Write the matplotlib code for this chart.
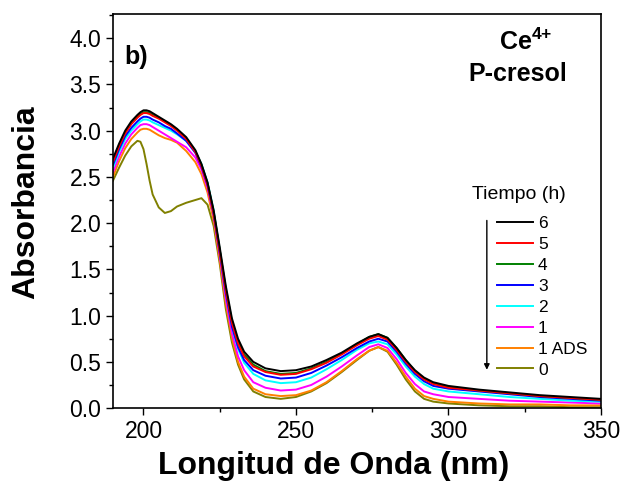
import numpy as np
import matplotlib
matplotlib.use("Agg")
import matplotlib.pyplot as plt
from matplotlib.ticker import MultipleLocator, FormatStrFormatter

plt.rcParams['font.family'] = ['Liberation Sans', 'DejaVu Sans']
plt.rcParams['mathtext.fontset'] = 'custom'
plt.rcParams['mathtext.rm'] = 'Liberation Sans'
plt.rcParams['mathtext.bf'] = 'Liberation Sans:bold'

# wavelength grid (nm)
wl = [190, 192, 194, 196, 198, 199, 200, 201, 202, 203, 205, 207, 209, 211, 214, 217, 219,
      221, 223, 225, 227, 229, 231, 233, 236, 240, 245, 250, 255, 260, 265, 270, 274, 277,
      280, 283, 286, 289, 292, 295, 300, 310, 320, 330, 340, 350]

# absorbance, one list per time
abs_6 = [2.70, 2.86, 3.00, 3.10, 3.17, 3.20, 3.22, 3.22, 3.21, 3.19, 3.15, 3.11, 3.07, 3.02, 2.93, 2.79, 2.64,
         2.44, 2.14, 1.74, 1.32, 0.97, 0.75, 0.61, 0.50, 0.43, 0.40, 0.41, 0.45, 0.52, 0.60, 0.70, 0.77, 0.80,
         0.76, 0.65, 0.52, 0.41, 0.33, 0.28, 0.24, 0.20, 0.17, 0.14, 0.12, 0.10]
abs_5 = [2.66, 2.83, 2.97, 3.07, 3.14, 3.17, 3.19, 3.19, 3.18, 3.16, 3.13, 3.09, 3.05, 3.00, 2.91, 2.77, 2.62,
         2.42, 2.11, 1.70, 1.27, 0.92, 0.70, 0.56, 0.45, 0.39, 0.36, 0.37, 0.42, 0.49, 0.58, 0.68, 0.75, 0.78,
         0.74, 0.63, 0.50, 0.39, 0.31, 0.26, 0.22, 0.19, 0.16, 0.13, 0.11, 0.09]
abs_4 = [2.67, 2.84, 2.98, 3.08, 3.15, 3.18, 3.20, 3.20, 3.19, 3.17, 3.14, 3.10, 3.06, 3.01, 2.92, 2.78, 2.63,
         2.43, 2.12, 1.71, 1.29, 0.94, 0.72, 0.58, 0.47, 0.40, 0.37, 0.38, 0.43, 0.50, 0.59, 0.69, 0.77, 0.80,
         0.76, 0.65, 0.52, 0.40, 0.32, 0.27, 0.23, 0.19, 0.16, 0.13, 0.11, 0.09]
abs_3 = [2.63, 2.80, 2.94, 3.03, 3.10, 3.13, 3.15, 3.15, 3.14, 3.12, 3.09, 3.05, 3.02, 2.97, 2.89, 2.76, 2.61,
         2.41, 2.10, 1.68, 1.24, 0.88, 0.66, 0.52, 0.41, 0.35, 0.32, 0.33, 0.38, 0.46, 0.55, 0.65, 0.72, 0.75,
         0.72, 0.61, 0.48, 0.37, 0.29, 0.24, 0.21, 0.18, 0.15, 0.12, 0.10, 0.08]
abs_2 = [2.60, 2.77, 2.91, 3.00, 3.07, 3.10, 3.12, 3.12, 3.11, 3.09, 3.06, 3.03, 3.00, 2.96, 2.89, 2.77, 2.64,
         2.44, 2.14, 1.71, 1.25, 0.88, 0.64, 0.49, 0.37, 0.30, 0.27, 0.28, 0.33, 0.42, 0.52, 0.63, 0.70, 0.72,
         0.69, 0.58, 0.45, 0.34, 0.26, 0.21, 0.18, 0.15, 0.12, 0.10, 0.08, 0.07]
abs_1 = [2.55, 2.72, 2.86, 2.96, 3.03, 3.06, 3.07, 3.07, 3.06, 3.04, 3.00, 2.96, 2.92, 2.88, 2.82, 2.71, 2.58,
         2.38, 2.08, 1.65, 1.18, 0.81, 0.56, 0.41, 0.28, 0.22, 0.19, 0.20, 0.25, 0.34, 0.45, 0.57, 0.66, 0.69,
         0.65, 0.53, 0.38, 0.26, 0.18, 0.15, 0.12, 0.10, 0.08, 0.07, 0.06, 0.05]
abs_1ads = [2.50, 2.67, 2.81, 2.91, 2.98, 3.01, 3.02, 3.02, 3.01, 2.99, 2.95, 2.92, 2.90, 2.87, 2.78, 2.66, 2.53,
            2.33, 2.03, 1.60, 1.13, 0.76, 0.50, 0.34, 0.21, 0.15, 0.13, 0.14, 0.19, 0.28, 0.40, 0.53, 0.62, 0.66,
            0.62, 0.49, 0.34, 0.21, 0.13, 0.10, 0.07, 0.05, 0.04, 0.04, 0.03, 0.03]
abs_0 = [2.46, 2.60, 2.73, 2.83, 2.89, 2.88, 2.80, 2.64, 2.46, 2.31, 2.17, 2.11, 2.13, 2.18, 2.22, 2.25, 2.27,
         2.20, 1.97, 1.56, 1.07, 0.71, 0.47, 0.31, 0.18, 0.12, 0.10, 0.12, 0.18, 0.27, 0.39, 0.52, 0.62, 0.66,
         0.61, 0.47, 0.31, 0.18, 0.10, 0.07, 0.05, 0.03, 0.02, 0.02, 0.01, 0.01]

labels = ['6', '5', '4', '3', '2', '1', '1 ADS', '0']
colors = ['black', 'red', 'green', 'blue', 'cyan', 'magenta', '#ff8000', '#808000']
series = [abs_6, abs_5, abs_4, abs_3, abs_2, abs_1, abs_1ads, abs_0]

fig = plt.figure(figsize=(6.26, 4.87), dpi=100)
ax = fig.add_axes([0.1805, 0.162, 0.7795, 0.809])

for y, c, lab in zip(series[::-1], colors[::-1], labels[::-1]):
    ax.plot(wl, y, color=c, lw=1.4, label=lab)

ax.set_xlim(190, 350)
ax.set_ylim(0, 4.26)
ax.xaxis.set_major_locator(MultipleLocator(50))
ax.xaxis.set_minor_locator(MultipleLocator(25))
ax.yaxis.set_major_locator(MultipleLocator(0.5))
ax.yaxis.set_minor_locator(MultipleLocator(0.25))
ax.yaxis.set_major_formatter(FormatStrFormatter('%.1f'))
ax.tick_params(which='both', direction='out', top=False, right=False, labelsize=16.5)
ax.tick_params(which='major', length=5, width=1)
ax.tick_params(which='minor', length=3, width=1)
for s in ax.spines.values():
    s.set_linewidth(1.2)

ax.set_xlabel('Longitud de Onda (nm)', fontsize=23, fontweight='bold', labelpad=6)
ax.set_ylabel('Absorbancia', fontsize=23, fontweight='bold', labelpad=20)
ax.xaxis.label.set_x(0.452)
ax.yaxis.label.set_y(0.523)

ax.text(0.0225, 0.891, 'b)', transform=ax.transAxes, fontsize=18, fontweight='bold',
        ha='left', va='center')
ax.text(0.845, 0.929, r'$\mathbf{Ce^{4{+}}}$', transform=ax.transAxes, fontsize=18,
        ha='center', va='center')
ax.text(0.830, 0.848, 'P-cresol', transform=ax.transAxes, fontsize=18, fontweight='bold',
        ha='center', va='center')

# legend title placed as its own text, entries below
ax.text(0.736, 0.541, 'Tiempo (h)', transform=ax.transAxes, fontsize=14,
        ha='left', va='center')
handles, labs = ax.get_legend_handles_labels()
leg = ax.legend(handles[::-1], labs[::-1], frameon=False, fontsize=12.5,
                handlelength=2.07, handletextpad=0.29, labelspacing=0.33, borderpad=0,
                loc='upper left', bbox_to_anchor=(0.787, 0.487), borderaxespad=0)

# arrow next to the legend
ax.annotate('', xy=(0.7777, 0.235), xytext=(0.7777, 0.553), xycoords='figure fraction',
            arrowprops=dict(arrowstyle='-|>', color='black', lw=1, mutation_scale=8))

fig.savefig('out.png', dpi=100)
